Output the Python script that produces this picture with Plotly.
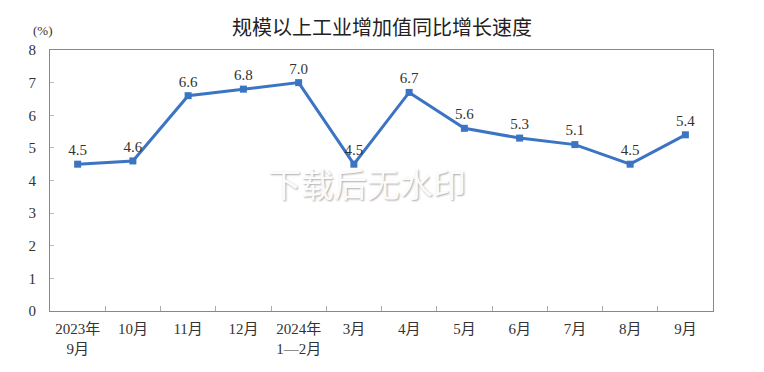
import plotly.graph_objects as go

categories = ["2023年<br>9月", "10月", "11月", "12月", "2024年<br>1—2月", "3月",
              "4月", "5月", "6月", "7月", "8月", "9月"]
values = [4.5, 4.6, 6.6, 6.8, 7.0, 4.5, 6.7, 5.6, 5.3, 5.1, 4.5, 5.4]
value_labels = ["4.5", "4.6", "6.6", "6.8", "7.0", "4.5", "6.7", "5.6", "5.3", "5.1", "4.5", "5.4"]
y_ticks = [0, 1, 2, 3, 4, 5, 6, 7, 8]

serif = "Liberation Serif, Times New Roman, Noto Sans CJK SC, serif"
line_color = "#3a74c2"

fig = go.Figure()
fig.add_trace(go.Scatter(
    x=categories, y=values, mode="lines+markers+text",
    text=value_labels, textposition="top center",
    textfont=dict(family=serif, size=15, color="#333333"),
    line=dict(color=line_color, width=3),
    marker=dict(symbol="square", size=7, color=line_color),
    cliponaxis=False, hoverinfo="skip",
))

fig.update_layout(
    width=764, height=372,
    margin=dict(l=50, r=51, t=50, b=61),
    paper_bgcolor="white", plot_bgcolor="white",
    showlegend=False,
    title=dict(text="规模以上工业增加值同比增长速度", x=0.5, xanchor="center",
               y=1 - 28 / 372, yanchor="middle",
               font=dict(family="Noto Sans CJK SC", size=20, color="#222222")),
    annotations=[
        dict(text="(%)", xref="paper", yref="paper", x=-0.011, y=1 + 20 / 261,
             xanchor="center", yanchor="middle", showarrow=False,
             font=dict(family=serif, size=13, color="#333333")),
        dict(text="下载后无水印", xref="paper", yref="paper", x=0.478, y=0.49,
             showarrow=False,
             font=dict(family="Noto Sans CJK SC", size=33, color="rgba(255,255,255,0.95)",
                       shadow="1px 1px 2px rgba(0,0,0,0.35)")),
    ],
)

fig.update_xaxes(
    type="category", tickson="boundaries", ticks="inside", ticklen=5,
    tickcolor="#aaaaaa", showline=True, linecolor="#888888", linewidth=1,
    mirror=True, showgrid=False, range=[-0.5, 11.5], ticklabelstandoff=4,
    tickfont=dict(family=serif, size=15, color="#333333"),
)
fig.update_yaxes(
    range=[0, 8], tickvals=y_ticks, ticks="inside", ticklen=4,
    tickcolor="#bbbbbb", showline=True, linecolor="#888888", linewidth=1,
    mirror=True, showgrid=False, zeroline=False, ticklabelstandoff=10,
    tickfont=dict(family=serif, size=15, color="#333333"),
)

fig.write_html("out.html")
